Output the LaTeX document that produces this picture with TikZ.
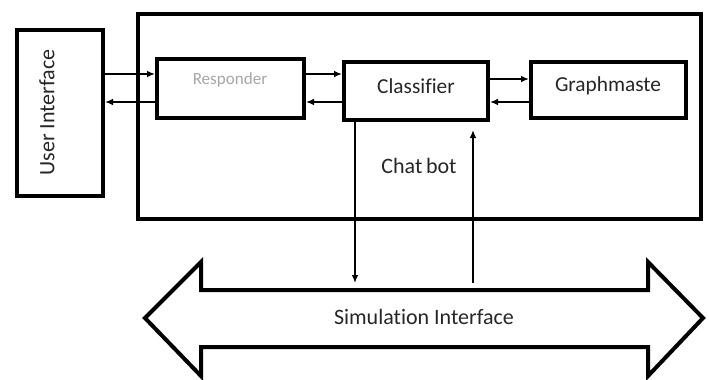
\documentclass[tikz,border=0pt]{standalone}
\usepackage{fontspec}
\setmainfont[Ligatures={NoCommon}]{Carlito}
\usetikzlibrary{arrows.meta,calc}
\begin{document}
\begin{tikzpicture}[x=0.75pt,y=-0.75pt,
  box/.style={draw,line width=3pt,inner sep=0pt},
  lbl/.style={text=black!85,font=\fontsize{16}{18}\selectfont},
  flow/.style={line width=1.1pt,-{Latex[length=6pt,width=5pt]}},
  bigarrow/.style={draw,line width=3pt,line join=miter}]
\useasboundingbox (0,0) rectangle (709,379);
\node[box,minimum width=563*0.75pt,minimum height=205*0.75pt] (chat) at (419.5,116.5) {};
\node[box,minimum width=86*0.75pt,minimum height=166*0.75pt] (ui) at (60,113) {};
\node[lbl,rotate=90,font=\fontsize{16.5}{18}\selectfont] (uil) at (47,112.5) {User Interface};
\node[box,minimum width=147*0.75pt,minimum height=59*0.75pt] (resp) at (230.5,88.5) {};
\node[text=black!35,font=\fontsize{12.8}{14}\selectfont] (respl) at (230,80) {Responder};
\node[box,minimum width=144*0.75pt,minimum height=58*0.75pt] (cls) at (416,91) {};
\node[lbl] (clsl) at (416,86) {Classifier};
\node[box,minimum width=155*0.75pt,minimum height=56*0.75pt] (gm) at (608.5,90) {};
\node[lbl] (gml) at (608,86) {Graphmaste};
\node[lbl,font=\fontsize{16.5}{18}\selectfont] (chatl) at (419,166) {Chat\,bot};
% big double arrow
\draw[bigarrow] (145,318) -- (201,262) -- (201,290) -- (648,290) -- (648,262) -- (703,318) -- (648,376) -- (648,347) -- (201,347) -- (201,376) -- cycle;
\node[lbl,font=\fontsize{16.5}{18}\selectfont] (sim) at (424,317) {Simulation Interface};
\coordinate (ya) at (0,74);
\coordinate (yb) at (0,102);
\coordinate (yc) at (0,79);
\coordinate (simtop) at (0,283);
\coordinate (xd) at (355,0);
\coordinate (xu) at (473,0);
\coordinate (ybot) at (0,130);
% connectors
\draw[flow] (ui.east |- ya) -- (resp.west |- ya);
\draw[flow] (resp.west |- yb) -- (ui.east |- yb);
\draw[flow] (resp.east |- ya) -- (cls.west |- ya);
\draw[flow] (cls.west |- yb) -- (resp.east |- yb);
\draw[flow] (cls.east |- yc) -- (gm.west |- yc);
\draw[flow] (gm.west |- yb) -- (cls.east |- yb);
\draw[flow] (cls.south -| xd) -- (xd |- simtop);
\draw[flow] (xu |- simtop) -- (xu |- ybot);
\end{tikzpicture}
\end{document}
